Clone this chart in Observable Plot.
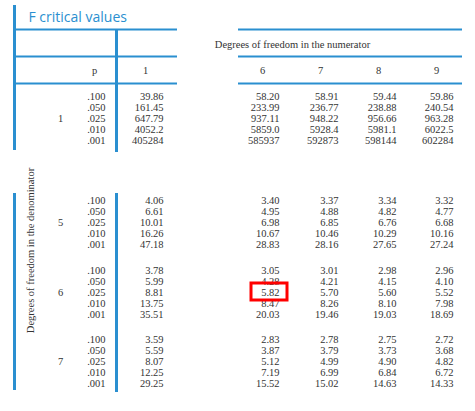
<!DOCTYPE html>
<html><head><meta charset="utf-8">
<script src="https://cdn.jsdelivr.net/npm/d3@7"></script>
<script src="https://cdn.jsdelivr.net/npm/@observablehq/plot@0.6"></script>
<style>body{margin:0;background:#fff}</style>
</head><body><div id="c"></div>
<script>
const numerCols = ["1","6","7","8","9"];
const denomDf = ["1","5","6","7"];
const pLevels = [".100",".050",".025",".010",".001"];
const v1 = ["39.86","161.45","647.79","4052.2","405284"];
const v5 = ["4.06","6.61","10.01","16.26","47.18"];
const v6 = ["3.78","5.99","8.81","13.75","35.51"];
const v7 = ["3.59","5.59","8.07","12.25","29.25"];
const c6 = [["58.20","233.99","937.11","5859.0","585937"],["3.40","4.95","6.98","10.67","28.83"],["3.05","4.28","5.82","8.47","20.03"],["2.83","3.87","5.12","7.19","15.52"]];
const c7 = [["58.91","236.77","948.22","5928.4","592873"],["3.37","4.88","6.85","10.46","28.16"],["3.01","4.21","5.70","8.26","19.46"],["2.78","3.79","4.99","6.99","15.02"]];
const c8 = [["59.44","238.88","956.66","5981.1","598144"],["3.34","4.82","6.76","10.29","27.65"],["2.98","4.15","5.60","8.10","19.03"],["2.75","3.73","4.90","6.84","14.63"]];
const c9 = [["59.86","240.54","963.28","6022.5","602284"],["3.32","4.77","6.68","10.16","27.24"],["2.96","4.10","5.52","7.98","18.69"],["2.72","3.68","4.82","6.72","14.33"]];
const col1 = [v1,v5,v6,v7];
const cols = [col1,c6,c7,c8,c9];

// layout
const colRight = [163,279,338,396,453];
const colCenter = [145,262,320,378,436];
const groupTop = [96,200,270,339];
const rowStep = 11.1;
const blue = "#2a8fd0";

const cells = [];
groupTop.forEach((gy,g)=>{
  pLevels.forEach((p,r)=>{
    cells.push({x:105,y:gy+r*rowStep,t:p});
    cols.forEach((c,ci)=>cells.push({x:colRight[ci],y:gy+r*rowStep,t:c[g][r]}));
  });
});
const dfLabels = denomDf.map((d,g)=>({x:60,y:groupTop[g]+2*rowStep,t:d}));
const heads = [{x:94,y:70,t:"p"}, ...numerCols.map((n,i)=>({x:colCenter[i],y:70,t:n}))];
const hRules = [29,56,83].flatMap(y=>[{x1:14,x2:177,y},{x1:238,x2:462,y}]);
const vRules = [{x:14,y1:5,y2:150},{x:14,y1:193,y2:390},{x:116,y1:29,y2:152},{x:116,y1:193,y2:392}];
const serif = "Liberation Serif, DejaVu Serif, serif";

const chart = Plot.plot({
  width:475, height:411, margin:0,
  x:{domain:[0,475],range:[0,475],axis:null},
  y:{domain:[0,411],range:[0,411],axis:null},
  style:{background:"#fff"},
  marks:[
    Plot.ruleY(hRules,{x1:"x1",x2:"x2",y:"y",stroke:blue,strokeWidth:2}),
    Plot.ruleX(vRules,{x:"x",y1:"y1",y2:"y2",stroke:blue,strokeWidth:3}),
    Plot.text(cells,{x:"x",y:"y",text:"t",textAnchor:"end",fontFamily:serif,fontSize:10.5,fill:"#333"}),
    Plot.text(dfLabels,{x:"x",y:"y",text:"t",fontFamily:serif,fontSize:10.5,fill:"#333"}),
    Plot.text(heads,{x:"x",y:"y",text:"t",fontFamily:serif,fontSize:10.5,fill:"#333",fontStyle:d=>d.t==="p"?"italic":"normal"}),
    Plot.text(["Degrees of freedom in the numerator"],{x:292,y:44,fontFamily:serif,fontSize:10.5,fill:"#333"}),
    Plot.text(["Degrees of freedom in the denominator"],{x:30,y:250,rotate:-90,fontFamily:serif,fontSize:10.5,fill:"#333"}),
    Plot.text(["F critical values"],{x:28,y:17,textAnchor:"start",fontFamily:"Open Sans, sans-serif",fontSize:14,fill:blue}),
    Plot.rect([{t:"5.82"}],{x1:()=>251,x2:()=>287,y1:()=>283,y2:()=>300,stroke:"red",strokeWidth:3,fill:"none"})
  ]
});
document.getElementById("c").appendChild(chart);
</script></body></html>
